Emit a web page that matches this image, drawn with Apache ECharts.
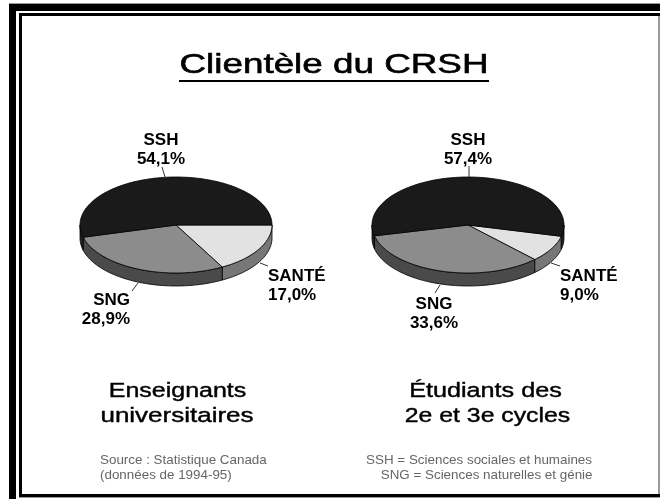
<!DOCTYPE html>
<html><head><meta charset="utf-8">
<style>html,body{margin:0;padding:0;background:#fff}#c{width:660px;height:499px}</style>
<script src="https://cdn.jsdelivr.net/npm/echarts@6/dist/echarts.min.js"></script>
</head><body><div id="c"></div>
<script>
const categories = ['SANTÉ', 'SNG', 'SSH'];
const valuesEnseignants = [17.0, 28.9, 54.1];
const valuesEtudiants = [9.0, 33.6, 57.4];
const topColors = ['#e2e2e2', '#8c8c8c', '#1a1a1a'];
const sideColors = ['#777777', '#4a4a4a', '#222222'];

const RX = 96, RY = 48, DEPTH = 13, CY = 225;
const pies = [
  { values: valuesEnseignants, cx: 176, start: 0 },
  { values: valuesEtudiants, cx: 468, start: 13.6 }
];
const rows = [];
pies.forEach((p, pi) => {
  let a = p.start;
  p.values.forEach((v, i) => {
    const span = v * 3.6;
    rows.push([pi, i, a, a + span]);
    a += span;
  });
});
const pt = (cx, deg, dy) => {
  const r = deg * Math.PI / 180;
  return [cx + RX * Math.cos(r), CY + (dy || 0) + RY * Math.sin(r)];
};
function arc(cx, a0, a1, dy) {
  const n = Math.max(2, Math.ceil(Math.abs(a1 - a0) / 2));
  const out = [];
  for (let k = 0; k <= n; k++) out.push(pt(cx, a0 + (a1 - a0) * k / n, dy));
  return out;
}
const outline = { stroke: '#000', lineWidth: 0.8 };
function renderItem(params, api) {
  const cx = pies[api.value(0)].cx, i = api.value(1), a0 = api.value(2), a1 = api.value(3);
  const children = [];
  [[a0, a1], [a0 - 360, a1 - 360]].forEach(([s, e]) => {
    const fs = Math.max(s, 0), fe = Math.min(e, 180);
    if (fe > fs) {
      const top = arc(cx, fs, fe, 0), bot = arc(cx, fe, fs, DEPTH);
      children.push({ type: 'polygon', shape: { points: top.concat(bot) },
        style: { fill: sideColors[i], ...outline } });
    }
  });
  children.push({ type: 'polygon', shape: { points: [[cx, CY]].concat(arc(cx, a0, a1, 0)) },
    style: { fill: topColors[i], ...outline } });
  return { type: 'group', children };
}
const bold = { fontFamily: 'Liberation Sans', fontWeight: 'bold', fontSize: 17, fill: '#000', lineHeight: 19 };
function lab(x, y, align, pieIdx, catIdx) {
  const v = pies[pieIdx].values[catIdx].toFixed(1).replace('.', ',');
  return { type: 'text', x, y, style: { ...bold, textAlign: align, text: categories[catIdx] + '\n' + v + '%' } };
}
function seg(x1, y1, x2, y2) {
  return { type: 'line', shape: { x1, y1, x2, y2 }, style: { stroke: '#333', lineWidth: 1 } };
}
function rect(x, y, w, h, fill) {
  return { type: 'rect', shape: { x, y, width: w, height: h }, style: { fill } };
}
function head(text, cx, y, sx) {
  return { type: 'text', x: cx, y, scaleX: sx, style: { text, textAlign: 'center', fontFamily: 'Liberation Sans', fontSize: 20, fill: '#000', stroke: '#000', lineWidth: 0.4 } };
}
function note(text, x, y, align) {
  return { type: 'text', x, y, style: { text, textAlign: align || 'left', fontFamily: 'Liberation Sans', fontSize: 13.4, fill: '#666' } };
}
const chart = echarts.init(document.getElementById('c'), null, { renderer: 'canvas' });
chart.setOption({
  animation: false,
  backgroundColor: '#fff',
  series: [{ type: 'custom', coordinateSystem: 'none', renderItem, data: rows, silent: true }],
  graphic: [
    rect(9, 3, 651, 1, '#999'),
    rect(9, 4, 651, 7, '#000'),
    rect(9, 4, 7, 495, '#000'),
    rect(19, 13, 641, 3, '#000'),
    rect(19, 13, 3, 484, '#000'),
    rect(19, 494, 641, 3, '#000'),
    rect(19, 497, 641, 1, '#999'),
    rect(658, 16, 2, 478, '#999'),
    { type: 'text', x: 334, y: 51, scaleX: 1.315, style: { text: 'Clientèle du CRSH', textAlign: 'center', fontFamily: 'Liberation Sans', fontSize: 28, fill: '#000', stroke: '#000', lineWidth: 0.6 } },
    rect(179, 80, 310, 2, '#000'),
    lab(161, 131, 'center', 0, 2),
    lab(268, 267, 'left', 0, 0),
    lab(130, 291, 'right', 0, 1),
    lab(468, 131, 'center', 1, 2),
    lab(560, 267, 'left', 1, 0),
    lab(434, 295, 'center', 1, 1),
    seg(162, 167, 165, 177), seg(260, 263, 268, 266), seg(138, 283, 132, 291),
    seg(469, 166, 469, 177), seg(551, 263, 560, 266), seg(440, 285, 435, 293),
    head('Enseignants', 177.5, 381, 1.25),
    head('universitaires', 177, 406, 1.3),
    head('Étudiants des', 485.5, 381, 1.26),
    head('2e et 3e cycles', 487.5, 406, 1.24),
    note('Source : Statistique Canada', 100, 454),
    note('(données de 1994-95)', 100, 469),
    note('SSH = Sciences sociales et humaines', 592, 454, 'right'),
    note('SNG = Sciences naturelles et génie', 592.5, 469, 'right')
  ]
});
</script></body></html>
